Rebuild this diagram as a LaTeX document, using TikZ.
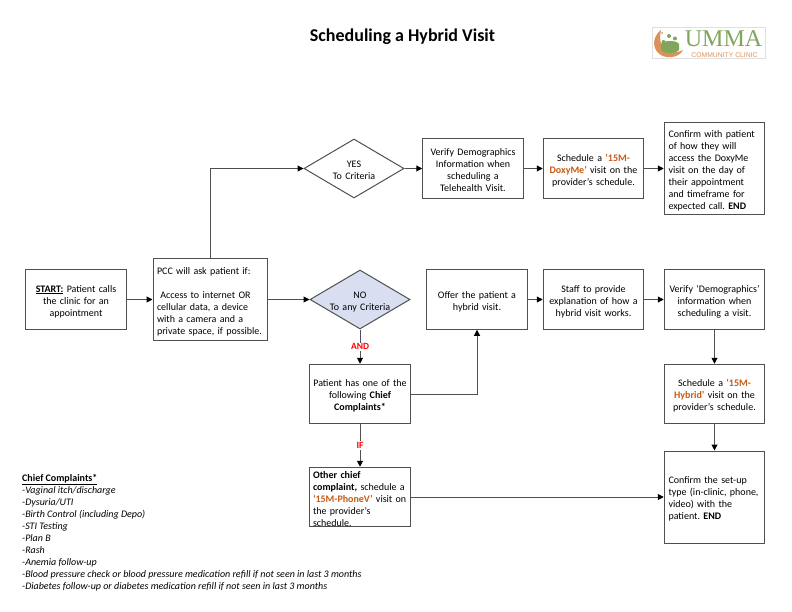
\documentclass[tikz,border=0pt]{standalone}
\usepackage{fontspec}
\setmainfont{Carlito}
\newfontfamily\logoserif{Liberation Serif}
\newfontfamily\logosans{Liberation Sans}
\usetikzlibrary{shapes.geometric,arrows.meta}
\definecolor{line_gray}{HTML}{505050}
\definecolor{slot_orange}{HTML}{C55A11}
\definecolor{no_blue}{HTML}{D9DFF1}
\definecolor{logo_green}{HTML}{7FA65A}
\definecolor{logo_orange}{HTML}{D9925A}
\tikzset{
  boxbase/.style={draw=line_gray,line width=1pt,inner sep=0pt,
    font=\fontsize{10}{12}\selectfont\frenchspacing,minimum width=100.5,minimum height=59.5,
    execute at begin node={\rule{0pt}{11pt}}},
  box/.style={boxbase,align=center,text width=98},
  leftbox/.style={boxbase,align=left,text width=#1},
  crit/.style={draw=line_gray,line width=1pt,shape=diamond,inner sep=0pt,minimum width=100,minimum height=59},
  crittext/.style={align=center,text width=90,inner sep=0pt,font=\fontsize{10}{12}\selectfont,
    execute at begin node={\rule{0pt}{11pt}}},
  conn/.style={draw=line_gray,line width=1pt,-{Triangle[length=6pt,width=6pt,color=black]}},
  tag/.style={fill=white,text=red,inner sep=1pt,font=\fontsize{9.5}{10}\selectfont\bfseries},
}
\newcommand{\slot}[1]{\textcolor{slot_orange}{\textbf{#1}}}
\begin{document}
\begin{tikzpicture}[x=1pt,y=-1pt]
    \useasboundingbox (0,0) rectangle (792,612);
    % Title
    \node[font=\fontsize{18}{20}\selectfont\bfseries] (title) at (402.5,37) {Scheduling a Hybrid Visit};
    % Logo
    \draw[black!12,line width=0.4pt] (652,27) rectangle (765,58);
    \fill[logo_orange] (661,30) .. controls (648,40) and (654,59) .. (672,57) .. controls (677,56.5) and (681,54) .. (683,50) .. controls (674,55) and (656,53) .. (661,30);
    \fill[logo_green] (661,44) .. controls (663,40) and (677,40) .. (679,44) -- (679,50) .. controls (676,54) and (664,54) .. (661,50) -- cycle;
    \foreach \px/\py in {669/36,663.5/42,675/38.5}
      \fill[logo_green] (\px,\py) circle (2);
    \fill[logo_orange] (662,33) circle (1);
    \node[font=\fontsize{24}{24}\selectfont\logoserif,text=logo_green,inner sep=0pt] (logoname) at (723.5,39) {UMMA};
    \node[font=\fontsize{6.8}{8}\selectfont\logosans,text=logo_orange,inner sep=0pt] (logosub) at (724.5,55) {COMMUNITY CLINIC};
    % Upper row
    \node[crit] (yes) at (354,168.5) {};
    \node[crittext] (yestext) at (yes) {YES\\To Criteria};
    \node[box] (verifytop) at (473,168.5) {Verify Demographics\\Information when\\scheduling a\\Telehealth Visit.};
    \node[box] (doxy) at (593.5,168.5) {Schedule a \slot{‘15M-}\\\slot{DoxyMe’} visit on the\\provider’s schedule.};
    \node[leftbox=92,minimum height=92] (confirmtop) at (714.5,168.5) {Confirm with patient\\of how they will\\access the DoxyMe\\visit on the day of\\their appointment\\and timeframe for\\expected call. \textbf{END}};
    % Middle row
    \node[box] (start) at (76,299.5) {\underline{\textbf{START:}} Patient calls\\the clinic for an\\appointment};
    \node[leftbox=106,minimum width=114,minimum height=81] (pcc) at (210,299.5) {PCC will ask patient if:\\\mbox{}\\\ Access to internet OR\\cellular data, a device\\with a camera and a\\private space, if possible.};
    \node[crit,fill=no_blue] (no) at (360,299.5) {};
    \node[crittext] (notext) at (no) {NO\\To any Criteria};
    \node[box] (offer) at (477,299.5) {Offer the patient a\\hybrid visit.};
    \node[box] (staff) at (593.5,299.5) {Staff to provide\\explanation of how a\\hybrid visit works.};
    \node[box] (verify) at (714.5,299.5) {Verify ‘Demographics’\\information when\\scheduling a visit.};
    % Lower boxes
    \node[box] (patient) at (360,394) {Patient has one of the\\following \textbf{Chief}\\\textbf{Complaints*}};
    \node[leftbox=94] (other) at (360,497) {\textbf{Other chief}\\\textbf{complaint,} schedule a\\\slot{‘15M-PhoneV’} visit on\\the provider’s\\schedule.};
    \node[box] (hybrid) at (714.5,394) {Schedule a \slot{‘15M-}\\\slot{Hybrid’} visit on the\\provider’s schedule.};
    \node[leftbox=92,minimum height=92] (confirm) at (714.5,497) {Confirm the set-up\\type (in-clinic, phone,\\video) with the\\patient. \textbf{END}};
    % Connectors
    \draw[conn] (start) -- (pcc);
    \draw[conn] (pcc.north) |- (yes.west);
    \draw[conn] (pcc) -- (no);
    \draw[conn] (yes) -- (verifytop);
    \draw[conn] (verifytop) -- (doxy);
    \draw[conn] (doxy) -- (confirmtop);
    \draw[conn] (offer) -- (staff);
    \draw[conn] (staff) -- (verify);
    \draw[conn] (verify) -- (hybrid);
    \draw[conn] (hybrid) -- (confirm);
    \draw[conn] (no) -- (patient) node[midway,tag] (andtag) {AND};
    \draw[conn] (patient) -- (other) node[midway,tag] (iftag) {IF};
    \draw[conn] (patient.east) -| (offer.south);
    \draw[conn] (other) -- (confirm);
    % Chief complaints list
    \node[anchor=north west,align=left,inner sep=0pt,font=\fontsize{10}{12}\selectfont\itshape] (legend) at (22,474) {{\upshape\bfseries\underline{Chief Complaints*}}\\-Vaginal itch/discharge\\-Dysuria/UTI\\-Birth Control (including Depo)\\-STI Testing\\-Plan B\\-Rash\\-Anemia follow-up\\-Blood pressure check or blood pressure medication refill if not seen in last 3 months\\-Diabetes follow-up or diabetes medication refill if not seen in last 3 months};
\end{tikzpicture}
\end{document}
